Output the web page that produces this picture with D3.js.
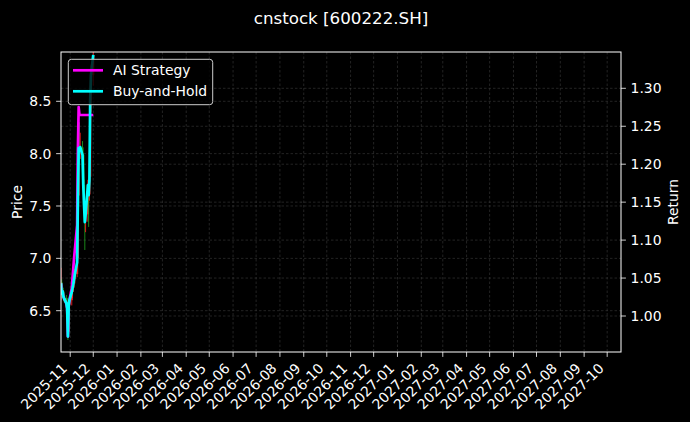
<!DOCTYPE html>
<html><head><meta charset="utf-8">
<script src="https://cdn.jsdelivr.net/npm/d3@7"></script>
<style>html,body{margin:0;padding:0;background:#000;}svg{display:block;font-family:"DejaVu Sans",sans-serif;}</style>
</head><body>
<script>
const dates = ["2025-10-20","2025-10-21","2025-10-22","2025-10-23","2025-10-24","2025-10-27","2025-10-28","2025-10-29","2025-10-30","2025-10-31",
"2025-11-03","2025-11-04","2025-11-05","2025-11-06","2025-11-07","2025-11-10","2025-11-11","2025-11-12","2025-11-13","2025-11-14",
"2025-11-17","2025-11-18","2025-11-19","2025-11-20","2025-11-21","2025-11-24","2025-11-25","2025-11-26","2025-11-27","2025-11-28","2025-12-01"];
const openP  = [6.70,6.77,6.67,6.69,6.64,6.62,6.58,6.50,6.30,6.56,6.60,6.68,6.72,6.76,6.80,6.85,7.00,7.60,8.05,8.04,8.06,7.99,7.70,7.51,7.35,7.42,7.70,7.61,7.78,8.51,8.75];
const highP  = [6.91,6.80,6.74,6.72,6.68,6.65,6.62,6.52,6.60,6.65,6.72,6.76,6.80,6.84,6.90,7.02,7.66,8.30,8.30,8.20,8.12,8.00,7.75,7.55,7.50,7.75,7.75,7.80,8.60,8.85,9.05];
const lowP   = [6.60,6.62,6.62,6.60,6.58,6.52,6.45,6.22,6.28,6.50,6.55,6.62,6.68,6.72,6.76,6.82,6.98,7.50,7.90,7.95,7.90,7.65,7.45,7.08,7.25,7.35,7.30,7.55,7.75,8.40,8.65];
const closeP = [6.77,6.67,6.69,6.64,6.62,6.58,6.53,6.26,6.56,6.60,6.68,6.72,6.76,6.80,6.85,6.97,7.56,8.05,8.04,8.06,7.99,7.70,7.51,7.35,7.42,7.70,7.61,7.75,8.51,8.75,8.94];
const aiReturn = [1.0431,1.0299,1.0326,1.0260,1.0233,1.0167,1.0102,0.9732,1.0141,1.0207,1.0365,1.0498,1.0629,1.0761,1.0867,1.1197,1.2186,1.2753,1.2648,1.2648,
1.2648,1.2648,1.2648,1.2648,1.2648,1.2648,1.2648,1.2648,1.2648,1.2648,1.2648];
const bhReturn = [1.0431,1.0299,1.0326,1.0260,1.0233,1.0167,1.0102,0.9732,1.0141,1.0207,1.0313,1.0365,1.0418,1.0484,1.0550,1.0708,1.1526,1.2212,1.2186,1.2226,
1.2120,1.1724,1.1460,1.1236,1.1328,1.1724,1.1592,1.1790,1.2846,1.3175,1.3440];
const priceTicks = [6.5,7.0,7.5,8.0,8.5];
const returnTicks = [1.00,1.05,1.10,1.15,1.20,1.25,1.30];
const xStart = "2025-10-20", xEnd = "2027-10-19";
const titleText = "cnstock [600222.SH]";
const seriesNames = ["AI Strategy","Buy-and-Hold"];
const seriesColors = ["#ff00ff","#00ffff"];

const W=690,H=422, L=61,R=621,T=52,B=352;
const parse = d3.timeParse("%Y-%m-%d");
const dts = dates.map(parse);
const svg = d3.select("body").append("svg").attr("width",W).attr("height",H);
svg.append("rect").attr("width",W).attr("height",H).attr("fill","#000");

const x = d3.scaleTime().domain([parse(xStart),parse(xEnd)]).range([L,R]);
const yP = d3.scaleLinear().domain([6.1055,8.9709]).range([B,T]);
const yR = d3.scaleLinear().domain([0.95257,1.34783]).range([B,T]);

const monthTicks = d3.timeMonth.range(new Date(2025,10,1), new Date(2027,10,1));
const fs = 13.9;
// grid
const grid = svg.append("g").attr("stroke","#555").attr("stroke-width",0.6).attr("stroke-dasharray","2.5,2").attr("opacity",0.7);
monthTicks.forEach(m=>grid.append("line").attr("x1",x(m)).attr("x2",x(m)).attr("y1",T).attr("y2",B));
priceTicks.forEach(v=>grid.append("line").attr("x1",L).attr("x2",R).attr("y1",yP(v)).attr("y2",yP(v)));
returnTicks.forEach(v=>grid.append("line").attr("x1",L).attr("x2",R).attr("y1",yR(v)).attr("y2",yR(v)));

svg.append("clipPath").attr("id","clip").append("rect").attr("x",L).attr("y",T).attr("width",R-L).attr("height",B-T);
const plot = svg.append("g").attr("clip-path","url(#clip)");
// candles
dts.forEach((d,i)=>{
  const up = closeP[i]>=openP[i];
  const col = up? "#ff2020":"#1f9e1f";
  const cx = x(d);
  plot.append("line").attr("x1",cx).attr("x2",cx).attr("y1",yP(highP[i])).attr("y2",yP(lowP[i])).attr("stroke",col).attr("stroke-width",1).attr("opacity",0.85);
  const y1=yP(Math.max(openP[i],closeP[i])), y2=yP(Math.min(openP[i],closeP[i]));
  plot.append("rect").attr("x",cx-1.1).attr("width",2.2).attr("y",y1).attr("height",Math.max(0.8,y2-y1)).attr("fill",col).attr("opacity",0.85);
});
const line = d3.line().x((d,i)=>x(dts[i])).y(d=>yR(d));
plot.append("path").datum(aiReturn).attr("d",line).attr("fill","none").attr("stroke",seriesColors[0]).attr("stroke-width",2.7).attr("stroke-linejoin","round");
plot.append("path").datum(bhReturn).attr("d",line).attr("fill","none").attr("stroke",seriesColors[1]).attr("stroke-width",2.7).attr("stroke-linejoin","round");

// frame
svg.append("rect").attr("x",L).attr("y",T).attr("width",R-L).attr("height",B-T).attr("fill","none").attr("stroke","#fff").attr("stroke-width",1);

// axes
const ax = svg.append("g").attr("fill","#fff").attr("font-size",fs);
priceTicks.forEach(v=>{
  ax.append("line").attr("x1",L-4.9).attr("x2",L).attr("y1",yP(v)).attr("y2",yP(v)).attr("stroke","#fff").attr("stroke-width",0.8);
  ax.append("text").attr("x",L-9.6).attr("y",yP(v)).attr("dy","0.36em").attr("text-anchor","end").text(d3.format(".1f")(v));
});
returnTicks.forEach(v=>{
  ax.append("line").attr("x1",R).attr("x2",R+4.9).attr("y1",yR(v)).attr("y2",yR(v)).attr("stroke","#fff").attr("stroke-width",0.8);
  ax.append("text").attr("x",R+9.6).attr("y",yR(v)).attr("dy","0.36em").attr("text-anchor","start").text(d3.format(".2f")(v));
});
const fmt = d3.timeFormat("%Y-%m");
monthTicks.forEach(m=>{
  const tx=x(m);
  ax.append("line").attr("x1",tx).attr("x2",tx).attr("y1",B).attr("y2",B+4.9).attr("stroke","#fff").attr("stroke-width",0.8);
  const axp = tx-2.3, ayp = B+9.7+7.5;
  ax.append("text").attr("transform",`translate(${axp},${ayp}) rotate(-45)`).attr("text-anchor","end").text(fmt(m));
});
ax.append("text").attr("transform",`translate(22,${(T+B)/2}) rotate(-90)`).attr("text-anchor","middle").text("Price");
ax.append("text").attr("transform",`translate(678,${(T+B)/2}) rotate(-90)`).attr("text-anchor","middle").text("Return");
svg.append("text").attr("x",(L+R)/2+0).attr("y",24).attr("text-anchor","middle").attr("fill","#fff").attr("font-size",16.7).text(titleText);

// legend
const lg = svg.append("g");
lg.append("rect").attr("x",68.3).attr("y",59.3).attr("width",144.4).attr("height",45.4).attr("rx",3).attr("fill","#000").attr("fill-opacity",0.8).attr("stroke","#cccccc").attr("stroke-width",1);
seriesNames.forEach((n,i)=>{
  const ly = 70.3 + i*21;
  lg.append("line").attr("x1",73).attr("x2",103).attr("y1",ly).attr("y2",ly).attr("stroke",seriesColors[i]).attr("stroke-width",2.7);
  lg.append("text").attr("x",113).attr("y",ly).attr("dy","0.36em").attr("fill","#fff").attr("font-size",fs).text(n);
});
</script>
</body></html>
